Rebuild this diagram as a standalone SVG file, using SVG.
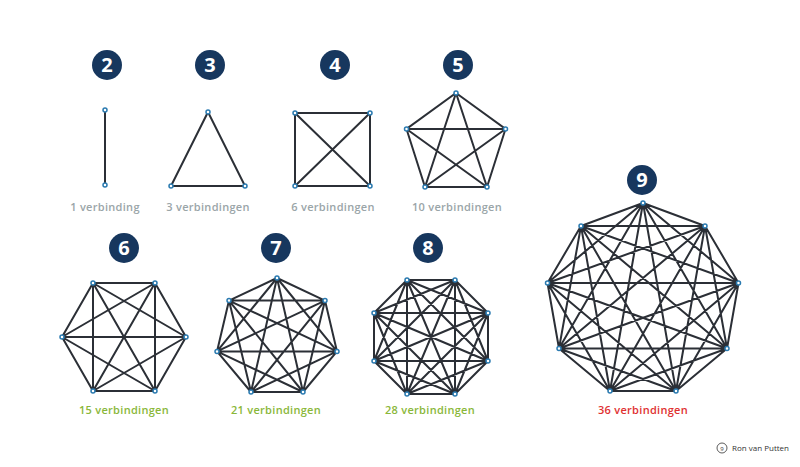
<svg xmlns="http://www.w3.org/2000/svg" width="800" height="467" viewBox="0 0 800 467">
<style>
.e{fill:none;stroke:#2b2f36;stroke-width:2;stroke-linecap:round}
.v{fill:#fff;stroke:#2a7ab0;stroke-width:1.5}
.b{fill:#17375e}
.n{fill:#fff;font-family:"Open Sans",sans-serif;font-weight:700;font-size:20px;text-anchor:middle}
.l{font-family:"Open Sans",sans-serif;font-weight:600;font-size:11px;text-anchor:middle;letter-spacing:0.3px}
.g{fill:#9aa5a8}.gr{fill:#8ab73a}.r{fill:#e03131}
</style>
<rect width="800" height="467" fill="#fff"/>
<g id="connectors">
<path class="e" d="M105 110L105 185"/>
<path class="e" d="M208 112L171 186L245 186Z"/>
<path class="e" d="M295 113L370 113L370 186L295 186ZM295 113L370 186M370 113L295 186"/>
<path class="e" d="M456 93L505.5 129L487 187L425 187L406.5 129ZM456 93L487 187M456 93L425 187M505.5 129L425 187M505.5 129L406.5 129M487 187L406.5 129"/>
<path class="e" d="M186 337L155 283M186 337L93 283M186 337L62 337M186 337L93 391M186 337L155 391M155 283L93 283M155 283L62 337M155 283L93 391M155 283L155 391M93 283L62 337M93 283L93 391M93 283L155 391M62 337L93 391M62 337L155 391M93 391L155 391"/>
<path class="e" d="M277 278L325 300.6M277 278L337 351.4M277 278L303 392M277 278L251 392M277 278L217 351.4M277 278L229 300.6M325 300.6L337 351.4M325 300.6L303 392M325 300.6L251 392M325 300.6L217 351.4M325 300.6L229 300.6M337 351.4L303 392M337 351.4L251 392M337 351.4L217 351.4M337 351.4L229 300.6M303 392L251 392M303 392L217 351.4M303 392L229 300.6M251 392L217 351.4M251 392L229 300.6M217 351.4L229 300.6"/>
<path class="e" d="M455 280L488 313M455 280L488 361M455 280L455 394M455 280L407 394M455 280L374 361M455 280L374 313M455 280L407 280M488 313L488 361M488 313L455 394M488 313L407 394M488 313L374 361M488 313L374 313M488 313L407 280M488 361L455 394M488 361L407 394M488 361L374 361M488 361L374 313M488 361L407 280M455 394L407 394M455 394L374 361M455 394L374 313M455 394L407 280M407 394L374 361M407 394L374 313M407 394L407 280M374 361L374 313M374 361L407 280M374 313L407 280"/>
<path class="e" d="M643 203L705 226M643 203L738.5 283M643 203L727 348.5M643 203L676 391M643 203L610 391M643 203L559 348.5M643 203L547.5 283M643 203L581 226M705 226L738.5 283M705 226L727 348.5M705 226L676 391M705 226L610 391M705 226L559 348.5M705 226L547.5 283M705 226L581 226M738.5 283L727 348.5M738.5 283L676 391M738.5 283L610 391M738.5 283L559 348.5M738.5 283L547.5 283M738.5 283L581 226M727 348.5L676 391M727 348.5L610 391M727 348.5L559 348.5M727 348.5L547.5 283M727 348.5L581 226M676 391L610 391M676 391L559 348.5M676 391L547.5 283M676 391L581 226M610 391L559 348.5M610 391L547.5 283M610 391L581 226M559 348.5L547.5 283M559 348.5L581 226M547.5 283L581 226"/>
</g>
<g id="g2"><circle class="b" cx="107" cy="65" r="15"/><text class="n" x="107" y="72">2</text><circle class="v" cx="105" cy="110" r="2"/><circle class="v" cx="105" cy="185" r="2"/><text class="l g" x="105" y="211">1 verbinding</text></g>
<g id="g3"><circle class="b" cx="210" cy="65" r="15"/><text class="n" x="210" y="72">3</text><circle class="v" cx="208" cy="112" r="2"/><circle class="v" cx="171" cy="186" r="2"/><circle class="v" cx="245" cy="186" r="2"/><text class="l g" x="208" y="211">3 verbindingen</text></g>
<g id="g4"><circle class="b" cx="335" cy="65" r="15"/><text class="n" x="335" y="72">4</text><circle class="v" cx="295" cy="113" r="2"/><circle class="v" cx="370" cy="113" r="2"/><circle class="v" cx="370" cy="186" r="2"/><circle class="v" cx="295" cy="186" r="2"/><text class="l g" x="333" y="211">6 verbindingen</text></g>
<g id="g5"><circle class="b" cx="458" cy="65" r="15"/><text class="n" x="458" y="72">5</text><circle class="v" cx="456" cy="93" r="2"/><circle class="v" cx="505.5" cy="129" r="2"/><circle class="v" cx="487" cy="187" r="2"/><circle class="v" cx="425" cy="187" r="2"/><circle class="v" cx="406.5" cy="129" r="2"/><text class="l g" x="457" y="211">10 verbindingen</text></g>
<g id="g6"><circle class="b" cx="124" cy="248" r="15"/><text class="n" x="124" y="255">6</text><circle class="v" cx="186" cy="337" r="2"/><circle class="v" cx="155" cy="283" r="2"/><circle class="v" cx="93" cy="283" r="2"/><circle class="v" cx="62" cy="337" r="2"/><circle class="v" cx="93" cy="391" r="2"/><circle class="v" cx="155" cy="391" r="2"/><text class="l gr" x="124" y="414">15 verbindingen</text></g>
<g id="g7"><circle class="b" cx="276" cy="248" r="15"/><text class="n" x="276" y="255">7</text><circle class="v" cx="277" cy="278" r="2"/><circle class="v" cx="325" cy="300.6" r="2"/><circle class="v" cx="337" cy="351.4" r="2"/><circle class="v" cx="303" cy="392" r="2"/><circle class="v" cx="251" cy="392" r="2"/><circle class="v" cx="217" cy="351.4" r="2"/><circle class="v" cx="229" cy="300.6" r="2"/><text class="l gr" x="276" y="414">21 verbindingen</text></g>
<g id="g8"><circle class="b" cx="428" cy="248" r="15"/><text class="n" x="428" y="255">8</text><circle class="v" cx="455" cy="280" r="2"/><circle class="v" cx="488" cy="313" r="2"/><circle class="v" cx="488" cy="361" r="2"/><circle class="v" cx="455" cy="394" r="2"/><circle class="v" cx="407" cy="394" r="2"/><circle class="v" cx="374" cy="361" r="2"/><circle class="v" cx="374" cy="313" r="2"/><circle class="v" cx="407" cy="280" r="2"/><text class="l gr" x="430" y="414">28 verbindingen</text></g>
<g id="g9"><circle class="b" cx="642" cy="180" r="15"/><text class="n" x="642" y="187">9</text><circle class="v" cx="643" cy="203" r="2"/><circle class="v" cx="705" cy="226" r="2"/><circle class="v" cx="738.5" cy="283" r="2"/><circle class="v" cx="727" cy="348.5" r="2"/><circle class="v" cx="676" cy="391" r="2"/><circle class="v" cx="610" cy="391" r="2"/><circle class="v" cx="559" cy="348.5" r="2"/><circle class="v" cx="547.5" cy="283" r="2"/><circle class="v" cx="581" cy="226" r="2"/><text class="l r" x="643" y="414">36 verbindingen</text></g>
<g id="logo"><circle cx="722" cy="448" r="5" fill="none" stroke="#333" stroke-width="0.8"/><text x="722" y="450.5" font-family="Open Sans,sans-serif" font-size="6" text-anchor="middle" fill="#333">9</text><text x="732" y="451" font-family="Open Sans,sans-serif" font-size="8" fill="#333">Ron van Putten</text></g>
</svg>
